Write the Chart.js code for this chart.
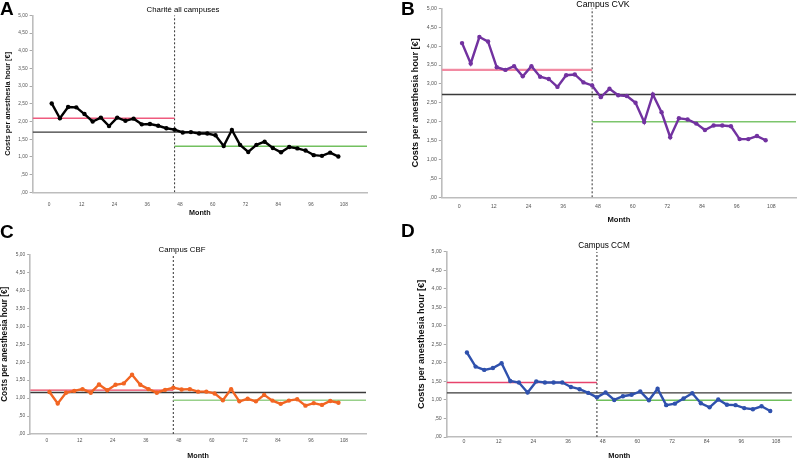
<!DOCTYPE html>
<html>
<head>
<meta charset="utf-8">
<title>Costs per anesthesia hour</title>
<script src="https://cdn.jsdelivr.net/npm/chart.js@4.4.0/dist/chart.umd.min.js"></script>
<style>
  html, body { margin: 0; padding: 0; background: #fff; overflow: hidden; }
  #page { position: relative; width: 800px; height: 459px; overflow: hidden;
          font-family: "Liberation Sans", Arial, sans-serif; }
  .panel { position: absolute; width: 400px; }
  .letter { position: absolute; font-weight: bold; font-size: 19px; line-height: 1; color: #000; }
  .title { position: absolute; line-height: 1; color: #000; white-space: nowrap;
           transform: translate(-50%, -50%); }
</style>
</head>
<body>
<div id="page"></div>

<script>
// ==========================
// DATA
// ==========================

const months = [1, 4, 7, 10, 13, 16, 19, 22, 25, 28, 31, 34, 37, 40, 43, 46, 49, 52,
                55, 58, 61, 64, 67, 70, 73, 76, 79, 82, 85, 88, 91, 94, 97, 100, 103, 106];

const monthTicks = [0, 12, 24, 36, 48, 60, 72, 84, 96, 108];
const costTicks = [0, 0.5, 1, 1.5, 2, 2.5, 3, 3.5, 4, 4.5, 5];

// month where the dotted line splits before / after
const interventionMonth = 46;

const chariteCosts = [2.51, 2.09, 2.41, 2.40, 2.21, 2.00, 2.11, 1.87, 2.11, 2.02, 2.08, 1.92,
                      1.93, 1.88, 1.81, 1.77, 1.69, 1.70, 1.66, 1.66, 1.61, 1.31, 1.76, 1.34,
                      1.14, 1.34, 1.43, 1.25, 1.13, 1.28, 1.24, 1.18, 1.05, 1.03, 1.12, 1.01];

const cvkCosts = [4.08, 3.54, 4.24, 4.12, 3.44, 3.37, 3.47, 3.20, 3.47, 3.19, 3.13, 2.92,
                  3.23, 3.25, 3.04, 2.96, 2.65, 2.87, 2.70, 2.68, 2.50, 1.99, 2.72, 2.25,
                  1.59, 2.09, 2.06, 1.95, 1.78, 1.90, 1.90, 1.88, 1.54, 1.54, 1.62, 1.51];

const cbfCosts = [1.17, 0.85, 1.15, 1.20, 1.25, 1.15, 1.38, 1.22, 1.37, 1.41, 1.65, 1.37,
                  1.25, 1.15, 1.23, 1.29, 1.24, 1.25, 1.18, 1.18, 1.13, 0.94, 1.25, 0.91,
                  0.98, 0.91, 1.09, 0.93, 0.84, 0.93, 0.97, 0.79, 0.86, 0.81, 0.92, 0.87];

const ccmCosts = [2.28, 1.90, 1.81, 1.86, 1.99, 1.51, 1.47, 1.20, 1.50, 1.47, 1.47, 1.47,
                  1.35, 1.29, 1.19, 1.07, 1.20, 1.00, 1.10, 1.14, 1.23, 0.99, 1.30, 0.86,
                  0.90, 1.04, 1.18, 0.91, 0.80, 1.01, 0.87, 0.86, 0.78, 0.75, 0.83, 0.70];

// mean lines: [before, overall, after]
const chariteMeans = [2.09, 1.70, 1.30];
const cvkMeans = [3.37, 2.72, 2.00];
const cbfMeans = [1.22, 1.155, 0.94];
const ccmMeans = [1.47, 1.19, 0.99];

// ==========================
// PANEL SETUP
// ==========================

const panels = [
  { letter: "A", title: "Charité all campuses", values: chariteCosts, means: chariteMeans,
    color: "#000000", left: 0, top: 0, h: 229, xMax: 116.5,
    L: 32.6, R: 367, T: 15.3, B: 192.3, yTitleX: 8, monthY: 213.3, xTickPad: 9,
    tickSize: 4.8, yTitleSize: 7.4, monthSize: 7.2, titleSize: 7.8, titleX: 183, titleY: 10,
    letterTop: -1, pink: "#ef5a7e", pinkW: 1.4, green: "#72c05f" },
  { letter: "B", title: "Campus CVK", values: cvkCosts, means: cvkMeans,
    color: "#7232a0", left: 400, top: 0, h: 229, xMax: 116.5,
    L: 41.8, R: 398.5, T: 8.3, B: 197.3, yTitleX: 15, monthY: 220, xTickPad: 5.7,
    tickSize: 5.2, yTitleSize: 9.2, monthSize: 7.6, titleSize: 8.8, titleX: 203, titleY: 4,
    letterTop: -1, pink: "#f28aa2", pinkW: 2.4, green: "#7cc56c" },
  { letter: "C", title: "Campus CBF", values: cbfCosts, means: cbfMeans,
    color: "#f26522", left: 0, top: 229, h: 240, xMax: 116,
    L: 30.2, R: 366, T: 25.5, B: 205, yTitleX: 5, monthY: 226.7, xTickPad: 4,
    tickSize: 4.8, yTitleSize: 8.2, monthSize: 7.2, titleSize: 7.8, titleX: 182, titleY: 20.7,
    letterTop: -7, pink: "#e9415e", pinkW: 1.3, green: "#98d08a" },
  { letter: "D", title: "Campus CCM", values: ccmCosts, means: ccmMeans,
    color: "#2f51ad", left: 400, top: 229, h: 240, xMax: 113.5,
    L: 46.7, R: 391.9, T: 22.7, B: 208, yTitleX: 21.7, monthY: 226.7, xTickPad: 1.7,
    tickSize: 5.2, yTitleSize: 9.2, monthSize: 7.4, titleSize: 8.2, titleX: 204, titleY: 17.3,
    letterTop: -8, pink: "#e8436c", pinkW: 1.3, green: "#6fbf5c" }
];

const xMin = -6;

Chart.defaults.font.family = "'Liberation Sans', Arial, sans-serif";

function costLabel(v) {
  return v.toFixed(2).replace(".", ",").replace(/^0/, "");
}

// ==========================
// BUILD CHARTS
// ==========================

const page = document.getElementById("page");

panels.forEach(function (p) {

  const box = document.createElement("div");
  box.className = "panel";
  box.style.left = p.left + "px";
  box.style.top = p.top + "px";
  box.style.height = p.h + "px";
  page.appendChild(box);

  const canvas = document.createElement("canvas");
  box.appendChild(canvas);

  const letter = document.createElement("div");
  letter.className = "letter";
  letter.textContent = p.letter;
  letter.style.left = (p.letter === "B" || p.letter === "D") ? "1px" : "0px";
  letter.style.top = p.letterTop + "px";
  box.appendChild(letter);

  const title = document.createElement("div");
  title.className = "title";
  title.textContent = p.title;
  title.style.left = p.titleX + "px";
  title.style.top = p.titleY + "px";
  title.style.fontSize = p.titleSize + "px";
  box.appendChild(title);

  const padLeft = p.yTitleX - 0.6 * p.yTitleSize;
  const xHeight = p.monthY + 0.6 * p.monthSize - p.B;
  const padBottom = p.h - p.B - xHeight;

  const series = months.map(function (m, i) { return { x: m, y: p.values[i] }; });

  new Chart(canvas, {
    type: "line",
    data: {
      datasets: [
        {
          data: series,
          borderColor: p.color,
          backgroundColor: p.color,
          borderWidth: 2.4,
          pointRadius: 2.2,
          pointBorderWidth: 0,
          tension: 0
        },
        {
          data: [{ x: xMin, y: p.means[0] }, { x: interventionMonth, y: p.means[0] }],
          borderColor: p.pink,
          borderWidth: p.pinkW,
          pointRadius: 0
        },
        {
          data: [{ x: interventionMonth, y: p.means[2] }, { x: p.xMax, y: p.means[2] }],
          borderColor: p.green,
          borderWidth: 1.5,
          pointRadius: 0
        },
        {
          data: [{ x: xMin, y: p.means[1] }, { x: p.xMax, y: p.means[1] }],
          borderColor: "#3a3a3a",
          borderWidth: 1.4,
          pointRadius: 0
        },
        {
          data: [{ x: interventionMonth, y: 0 }, { x: interventionMonth, y: 5 }],
          borderColor: "#444",
          borderWidth: 1.1,
          borderDash: [2, 2],
          pointRadius: 0
        }
      ]
    },
    options: {
      responsive: true,
      maintainAspectRatio: false,
      animation: false,
      layout: {
        padding: { left: padLeft, right: 400 - p.R, top: p.T, bottom: padBottom }
      },
      plugins: {
        legend: { display: false },
        tooltip: { enabled: false },
        title: { display: false }
      },
      scales: {
        x: {
          type: "linear",
          min: xMin,
          max: p.xMax,
          afterBuildTicks: function (axis) {
            axis.ticks = monthTicks.map(function (v) { return { value: v }; });
          },
          afterFit: function (scale) { scale.height = xHeight; },
          grid: { display: false, drawTicks: false },
          border: { display: true, color: "#bdbdbd", width: 1.6 },
          ticks: {
            color: "#555",
            font: { size: p.tickSize },
            padding: p.xTickPad,
            maxRotation: 0,
            autoSkip: false
          },
          title: {
            display: true,
            text: "Month",
            color: "#111",
            font: { size: p.monthSize, weight: "bold" },
            padding: { top: 0, bottom: 0 }
          }
        },
        y: {
          type: "linear",
          min: 0,
          max: 5,
          afterBuildTicks: function (axis) {
            axis.ticks = costTicks.map(function (v) { return { value: v }; });
          },
          afterFit: function (scale) { scale.width = p.L - padLeft; },
          grid: { display: true, drawOnChartArea: false, drawTicks: true, tickLength: 3, color: "#aaa" },
          border: { display: true, color: "#bdbdbd", width: 1.6 },
          ticks: {
            color: "#555",
            font: { size: p.tickSize },
            padding: 2,
            autoSkip: false,
            callback: function (v) { return costLabel(v); }
          },
          title: {
            display: true,
            text: "Costs per anesthesia hour [€]",
            color: "#111",
            font: { size: p.yTitleSize, weight: "bold" },
            padding: { top: 0, bottom: 0 }
          }
        }
      }
    }
  });
});
</script>
</body>
</html>
